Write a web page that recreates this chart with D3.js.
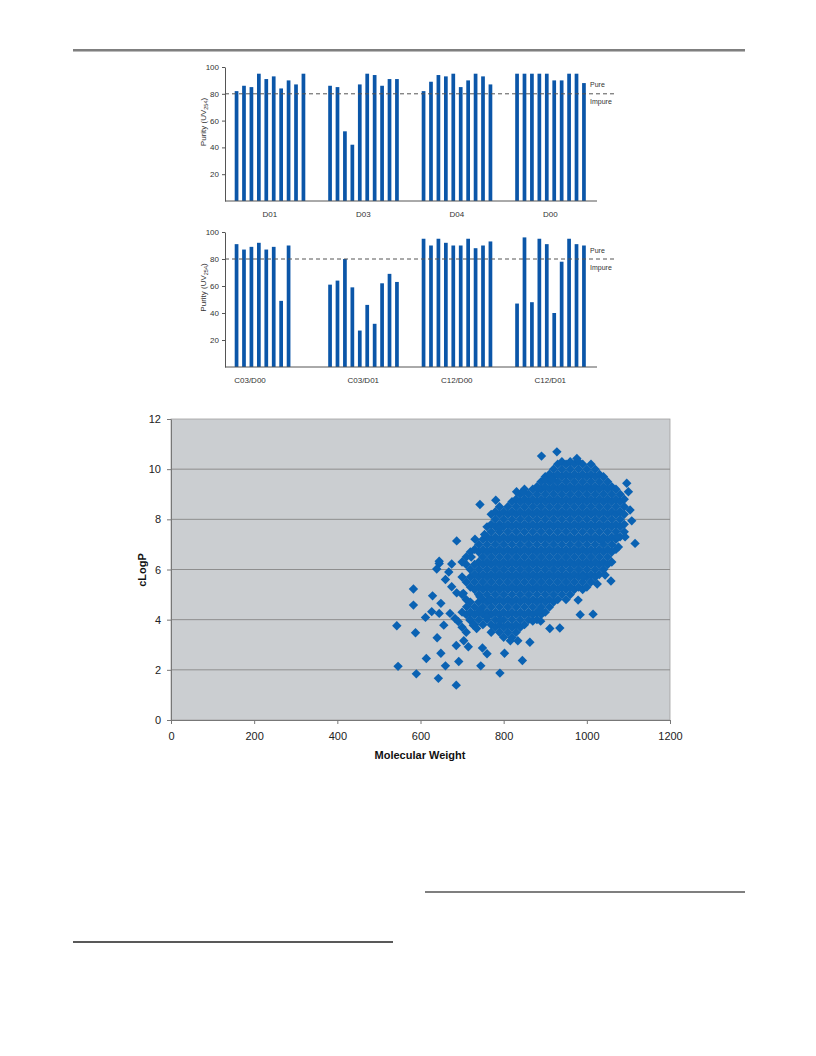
<!DOCTYPE html>
<html>
<head>
<script src="https://d3js.org/d3.v7.min.js"></script>
<style>
body { margin: 0; background: #fff; }
text { font-family: "Liberation Sans", Arial, sans-serif; }
</style>
</head>
<body>
<div id="page"></div>
<script>

// purity panels
var topGroups = ["D01", "D03", "D04", "D00"];
var topValues = [
  [82, 86, 85, 95, 91, 93, 84, 90, 87, 95],
  [86, 85, 52, 42, 87, 95, 94, 86, 91, 91],
  [82, 89, 94, 93, 95, 85, 90, 95, 93, 87],
  [95, 95, 95, 95, 95, 90, 90, 95, 95, 88]
];
var bottomGroups = ["C03/D00", "C03/D01", "C12/D00", "C12/D01"];
var bottomValues = [
  [91, 87, 89, 92, 87, 89, 49, 90],
  [61, 64, 80, 59, 27, 46, 32, 62, 69, 63],
  [95, 90, 95, 92, 90, 90, 95, 88, 90, 93],
  [47, 96, 48, 95, 91, 40, 78, 95, 91, 90]
];
var purityTicks = [20, 40, 60, 80, 100];
var cutoff = 80;

// scatter: dense core, one column per molecular weight
var coreMW = [700, 710, 720, 730, 740, 750, 760, 770, 780, 790, 800, 810, 820, 830, 840, 850,
  860, 870, 880, 890, 900, 910, 920, 930, 940, 950, 960, 970, 980, 990, 1000, 1010, 1020,
  1030, 1040, 1050, 1060, 1070, 1080, 1090];
var coreLogP = [
  [3.7, 4.3, 5.0, 5.7, 6.3],
  [3.5, 4.2, 4.8, 5.5, 6.2, 6.5],
  [4.0, 4.3, 4.7, 5.3, 5.7, 6.0, 6.7],
  [3.8, 4.2, 4.5, 5.2, 5.5, 5.8, 6.2, 6.8],
  [4.0, 4.3, 4.7, 5.0, 5.3, 5.7, 6.0, 6.3, 6.7, 7.0],
  [3.8, 4.2, 4.5, 4.8, 5.2, 5.5, 5.8, 6.2, 6.5, 6.8, 7.2],
  [4.0, 4.3, 4.7, 5.0, 5.3, 5.7, 6.0, 6.3, 6.7, 7.0, 7.3, 7.7],
  [3.5, 3.8, 4.2, 4.5, 4.8, 5.2, 5.5, 5.8, 6.2, 6.5, 6.8, 7.2, 7.5, 7.8, 8.2],
  [3.7, 4.0, 4.3, 4.7, 5.0, 5.3, 5.7, 6.0, 6.3, 6.7, 7.0, 7.3, 7.7, 8.0, 8.3],
  [3.5, 3.8, 4.2, 4.5, 4.8, 5.2, 5.5, 5.8, 6.2, 6.5, 6.8, 7.2, 7.5, 7.8, 8.2, 8.5],
  [3.3, 3.7, 4.0, 4.3, 4.7, 5.0, 5.3, 5.7, 6.0, 6.3, 6.7, 7.0, 7.3, 7.7, 8.0, 8.3],
  [3.5, 3.8, 4.2, 4.5, 4.8, 5.2, 5.5, 5.8, 6.2, 6.5, 6.8, 7.2, 7.5, 7.8, 8.2, 8.5],
  [3.3, 3.7, 4.0, 4.3, 4.7, 5.0, 5.3, 5.7, 6.0, 6.3, 6.7, 7.0, 7.3, 7.7, 8.0, 8.3, 8.7],
  [3.5, 3.8, 4.2, 4.5, 4.8, 5.2, 5.5, 5.8, 6.2, 6.5, 6.8, 7.2, 7.5, 7.8, 8.2, 8.5, 8.8],
  [3.7, 4.0, 4.3, 4.7, 5.0, 5.3, 5.7, 6.0, 6.3, 6.7, 7.0, 7.3, 7.7, 8.0, 8.3, 8.7, 9.0],
  [3.8, 4.2, 4.5, 4.8, 5.2, 5.5, 5.8, 6.2, 6.5, 6.8, 7.2, 7.5, 7.8, 8.2, 8.5, 8.8, 9.2],
  [4.0, 4.3, 4.7, 5.0, 5.3, 5.7, 6.0, 6.3, 6.7, 7.0, 7.3, 7.7, 8.0, 8.3, 8.7, 9.0],
  [4.2, 4.5, 4.8, 5.2, 5.5, 5.8, 6.2, 6.5, 6.8, 7.2, 7.5, 7.8, 8.2, 8.5, 8.8, 9.2],
  [4.0, 4.3, 4.7, 5.0, 5.3, 5.7, 6.0, 6.3, 6.7, 7.0, 7.3, 7.7, 8.0, 8.3, 8.7, 9.0, 9.3],
  [4.2, 4.5, 4.8, 5.2, 5.5, 5.8, 6.2, 6.5, 6.8, 7.2, 7.5, 7.8, 8.2, 8.5, 8.8, 9.2, 9.5],
  [4.3, 4.7, 5.0, 5.3, 5.7, 6.0, 6.3, 6.7, 7.0, 7.3, 7.7, 8.0, 8.3, 8.7, 9.0, 9.3, 9.7],
  [4.5, 4.8, 5.2, 5.5, 5.8, 6.2, 6.5, 6.8, 7.2, 7.5, 7.8, 8.2, 8.5, 8.8, 9.2, 9.5, 9.8],
  [4.7, 5.0, 5.3, 5.7, 6.0, 6.3, 6.7, 7.0, 7.3, 7.7, 8.0, 8.3, 8.7, 9.0, 9.3, 9.7, 10.0],
  [4.8, 5.2, 5.5, 5.8, 6.2, 6.5, 6.8, 7.2, 7.5, 7.8, 8.2, 8.5, 8.8, 9.2, 9.5, 9.8, 10.2],
  [5.0, 5.3, 5.7, 6.0, 6.3, 6.7, 7.0, 7.3, 7.7, 8.0, 8.3, 8.7, 9.0, 9.3, 9.7, 10.0, 10.3],
  [4.8, 5.2, 5.5, 5.8, 6.2, 6.5, 6.8, 7.2, 7.5, 7.8, 8.2, 8.5, 8.8, 9.2, 9.5, 9.8, 10.2],
  [5.0, 5.3, 5.7, 6.0, 6.3, 6.7, 7.0, 7.3, 7.7, 8.0, 8.3, 8.7, 9.0, 9.3, 9.7, 10.0, 10.3],
  [5.2, 5.5, 5.8, 6.2, 6.5, 6.8, 7.2, 7.5, 7.8, 8.2, 8.5, 8.8, 9.2, 9.5, 9.8, 10.2],
  [5.3, 5.7, 6.0, 6.3, 6.7, 7.0, 7.3, 7.7, 8.0, 8.3, 8.7, 9.0, 9.3, 9.7, 10.0, 10.3],
  [5.2, 5.5, 5.8, 6.2, 6.5, 6.8, 7.2, 7.5, 7.8, 8.2, 8.5, 8.8, 9.2, 9.5, 9.8, 10.2],
  [5.3, 5.7, 6.0, 6.3, 6.7, 7.0, 7.3, 7.7, 8.0, 8.3, 8.7, 9.0, 9.3, 9.7, 10.0],
  [5.5, 5.8, 6.2, 6.5, 6.8, 7.2, 7.5, 7.8, 8.2, 8.5, 8.8, 9.2, 9.5, 9.8, 10.2],
  [5.7, 6.0, 6.3, 6.7, 7.0, 7.3, 7.7, 8.0, 8.3, 8.7, 9.0, 9.3, 9.7, 10.0],
  [5.8, 6.2, 6.5, 6.8, 7.2, 7.5, 7.8, 8.2, 8.5, 8.8, 9.2, 9.5, 9.8],
  [6.0, 6.3, 6.7, 7.0, 7.3, 7.7, 8.0, 8.3, 8.7, 9.0, 9.3, 9.7],
  [6.2, 6.5, 6.8, 7.2, 7.5, 7.8, 8.2, 8.5, 8.8, 9.2, 9.5],
  [6.3, 6.7, 7.0, 7.3, 7.7, 8.0, 8.3, 8.7, 9.0, 9.3],
  [6.8, 7.2, 7.5, 7.8, 8.2, 8.5, 8.8, 9.2],
  [7.3, 7.7, 8.0, 8.3, 8.7, 9.0],
  [7.5, 7.8, 8.2, 8.5, 8.8]
];
// scatter: loose points around the core [MW, cLogP]
var outliers = [
  [546, 2.14], [590, 1.84], [614, 2.45], [643, 1.66], [649, 2.66], [660, 2.16], [686, 1.39],
  [686, 2.97], [692, 2.33], [704, 3.16], [715, 2.92], [745, 2.16], [749, 2.87], [760, 2.64],
  [791, 1.87], [802, 2.66], [816, 3.16], [834, 3.16], [845, 2.37], [863, 3.1],
  [583, 5.22], [583, 4.58], [543, 3.76], [588, 3.48], [629, 4.95], [612, 4.09], [627, 4.32],
  [645, 4.25], [649, 4.65], [656, 3.78], [640, 3.28], [675, 5.31], [687, 5.07], [645, 6.24],
  [639, 6.02], [671, 4.25], [683, 4.05], [691, 3.92], [719, 3.98], [727, 3.78], [735, 3.65],
  [711, 4.51], [743, 4.38], [759, 4.12], [791, 3.98], [743, 4.91], [767, 4.78], [703, 5.05],
  [870, 3.94], [889, 3.94], [911, 3.65], [935, 3.67], [887, 4.38], [1015, 4.22], [979, 4.78],
  [1025, 5.42], [1058, 5.54], [1044, 5.78], [991, 5.7], [687, 7.14], [731, 7.21], [754, 7.4],
  [789, 7.64], [675, 6.22], [645, 6.33], [743, 8.59], [781, 8.76], [831, 9.1], [846, 9.1],
  [883, 9.23], [900, 9.58], [916, 9.58], [891, 10.52], [928, 10.69], [976, 10.43],
  [1096, 9.44], [1104, 8.37], [1108, 7.94], [1116, 7.04], [1072, 7.3], [1092, 7.3],
  [1076, 6.9], [1036, 7.17], [660, 5.6], [668, 5.9], [722, 6.5], [984, 4.2], [1100, 9.1]
];
var mwTicks = [0, 200, 400, 600, 800, 1000, 1200];
var logpTicks = [0, 2, 4, 6, 8, 10, 12];

var svg = d3.select("#page").append("svg")
  .attr("width", 816)
  .attr("height", 1056);

// page rules
svg.append("line").attr("x1", 73).attr("x2", 745).attr("y1", 50).attr("y2", 50)
  .attr("stroke", "#555").attr("stroke-width", 1.5);
svg.append("line").attr("x1", 73).attr("x2", 745).attr("y1", 51.5).attr("y2", 51.5)
  .attr("stroke", "#bbb").attr("stroke-width", 1);
svg.append("line").attr("x1", 425).attr("x2", 745).attr("y1", 892).attr("y2", 892)
  .attr("stroke", "#555").attr("stroke-width", 1.5);
svg.append("line").attr("x1", 73).attr("x2", 393).attr("y1", 942).attr("y2", 942)
  .attr("stroke", "#222").attr("stroke-width", 1.5);

function barPanel(groups, values, top, bottom, labelY, labelX) {
  var g = svg.append("g");
  var x = d3.scaleBand().domain(groups).range([223, 597]);
  var slot = d3.scaleBand().domain(d3.range(10)).range([11.7, 82.3]).paddingInner(0.5);
  var y = d3.scaleLinear().domain([0, 100]).range([bottom, top]);

  groups.forEach(function(grp, gi) {
    g.selectAll(null)
      .data(values[gi])
      .enter()
      .append("rect")
      .attr("x", function(d, i) { return x(grp) + slot(i); })
      .attr("y", function(d) { return y(d); })
      .attr("width", slot.bandwidth())
      .attr("height", function(d) { return y(0) - y(d); })
      .attr("fill", "#0b56a8");
  });

  // axis
  var ax = g.append("g")
    .attr("transform", "translate(225,0)")
    .call(d3.axisLeft(y).tickValues(purityTicks).tickSize(3).tickSizeOuter(0));
  ax.select(".domain").attr("stroke", "#555");
  ax.selectAll(".tick line").attr("stroke", "#555");
  ax.selectAll("text").attr("font-size", "8px").attr("fill", "#333")
    .attr("font-family", "Liberation Sans, Arial, sans-serif");

  g.append("line").attr("x1", 225).attr("x2", 597)
    .attr("y1", y(0)).attr("y2", y(0)).attr("stroke", "#555");

  // cut-off line
  g.append("line").attr("x1", 225).attr("x2", 617)
    .attr("y1", y(cutoff)).attr("y2", y(cutoff))
    .attr("stroke", "#555").attr("stroke-dasharray", "4,3");
  g.append("text").attr("x", 590).attr("y", y(cutoff) - 6.5)
    .attr("font-size", "7px").attr("fill", "#333").text("Pure");
  g.append("text").attr("x", 590).attr("y", y(cutoff) + 10.5)
    .attr("font-size", "7px").attr("fill", "#333").text("Impure");

  g.selectAll(null)
    .data(groups)
    .enter()
    .append("text")
    .attr("x", function(d, i) { return labelX[i] != null ? labelX[i] : x(d) + x.bandwidth() / 2; })
    .attr("y", labelY)
    .attr("text-anchor", "middle")
    .attr("font-size", "8px")
    .attr("fill", "#333")
    .text(function(d) { return d; });

  var yl = g.append("text")
    .attr("transform", "translate(206," + ((top + bottom) / 2 - 12) + ") rotate(-90)")
    .attr("text-anchor", "middle")
    .attr("font-size", "8px")
    .attr("fill", "#333");
  yl.append("tspan").text("Purity (UV");
  yl.append("tspan").attr("font-size", "5.5px").attr("dy", 1.5).text("254");
  yl.append("tspan").attr("dy", -1.5).text(")");
}

barPanel(topGroups, topValues, 67, 201, 217, [null, null, null, null]);
barPanel(bottomGroups, bottomValues, 232, 367, 383, [250, null, null, null]);

// scatter plot
var sx = d3.scaleLinear().domain([0, 1200]).range([171, 670]);
var sy = d3.scaleLinear().domain([0, 12]).range([720, 419]);

svg.append("rect").attr("x", 171).attr("y", 419).attr("width", 499).attr("height", 301)
  .attr("fill", "#cbced1").attr("stroke", "#a0a0a0").attr("stroke-width", 0.8);

svg.selectAll(".grid")
  .data(logpTicks.slice(1, -1))
  .enter()
  .append("line")
  .attr("class", "grid")
  .attr("x1", 171).attr("x2", 670)
  .attr("y1", function(d) { return sy(d); })
  .attr("y2", function(d) { return sy(d); })
  .attr("stroke", "#8e8e8e").attr("stroke-width", 1);

var yAx = svg.append("g").attr("transform", "translate(171,0)")
  .call(d3.axisLeft(sy).tickValues(logpTicks).tickSize(4).tickSizeOuter(0).tickPadding(6));
var xAx = svg.append("g").attr("transform", "translate(0,720)")
  .call(d3.axisBottom(sx).tickValues(mwTicks).tickFormat(d3.format("d"))
    .tickSize(4).tickSizeOuter(0).tickPadding(8));
[yAx, xAx].forEach(function(a) {
  a.select(".domain").attr("stroke", "#777");
  a.selectAll(".tick line").attr("stroke", "#777");
  a.selectAll("text").attr("font-size", "11px").attr("fill", "#222")
    .attr("font-family", "Liberation Sans, Arial, sans-serif");
});

var pts = [];
coreMW.forEach(function(mw, i) {
  coreLogP[i].forEach(function(v) { pts.push([mw, v]); });
});
outliers.forEach(function(p) { pts.push(p); });

var diamond = d3.symbol().type(d3.symbolSquare).size(44);
svg.append("g")
  .selectAll("path")
  .data(pts)
  .enter()
  .append("path")
  .attr("d", diamond)
  .attr("transform", function(d) {
    return "translate(" + sx(d[0]) + "," + sy(d[1]) + ") rotate(45)";
  })
  .attr("fill", "#0a62b3");

svg.append("text")
  .attr("transform", "translate(146,570) rotate(-90)")
  .attr("text-anchor", "middle")
  .attr("font-size", "11px")
  .attr("font-weight", "bold")
  .attr("fill", "#111")
  .text("cLogP");

svg.append("text")
  .attr("x", 420).attr("y", 759)
  .attr("text-anchor", "middle")
  .attr("font-size", "11px")
  .attr("font-weight", "bold")
  .attr("fill", "#111")
  .text("Molecular Weight");

</script>
</body>
</html>
